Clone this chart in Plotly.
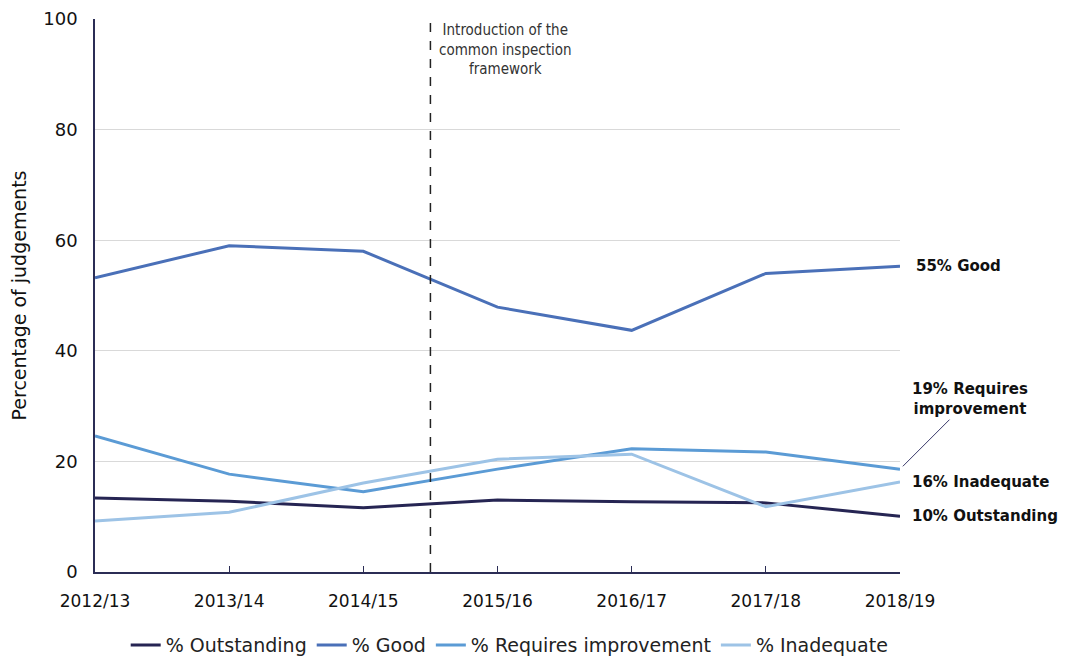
import plotly.graph_objects as go

years = ["2012/13", "2013/14", "2014/15", "2015/16", "2016/17", "2017/18", "2018/19"]
outstanding = [13.4, 12.8, 11.6, 13.0, 12.7, 12.5, 10.1]
good = [53.2, 59.0, 58.0, 47.9, 43.7, 54.0, 55.3]
requires_improvement = [24.6, 17.7, 14.5, 18.6, 22.3, 21.7, 18.6]
inadequate = [9.2, 10.8, 16.1, 20.4, 21.3, 11.8, 16.3]

series = [
    ("% Outstanding", outstanding, "#262553"),
    ("% Good", good, "#4a70b8"),
    ("% Requires improvement", requires_improvement, "#5b9bd5"),
    ("% Inadequate", inadequate, "#9dc3e6"),
]

fig = go.Figure()
for name, vals, col in series:
    fig.add_trace(go.Scatter(x=list(range(len(years))), y=vals, name=name, mode="lines",
                             line=dict(color=col, width=3)))

font = "DejaVu Sans, Verdana, sans-serif"

# Vertical dashed line between 2014/15 and 2015/16
fig.add_shape(type="line", x0=2.5, x1=2.5, y0=0, y1=101.5, xref="x", yref="y",
              line=dict(color="#222222", width=1.5, dash="dash"))
fig.add_annotation(x=2.55, y=100, xref="x", yref="y", xanchor="left", yanchor="top",
                   text="Introduction of the<br>common inspection<br>framework", showarrow=False,
                   align="center", font=dict(family="DejaVu Sans Condensed, " + font, size=15, color="#333333"))

# End labels
fig.add_annotation(x=6, y=good[-1], xref="x", yref="y", xanchor="left", xshift=14,
                   text="<b>55% Good</b>", showarrow=False, font=dict(family=font, size=15, color="#111111"))
fig.add_annotation(x=6, y=inadequate[-1], xref="x", yref="y", xanchor="left", xshift=10,
                   text="<b>16% Inadequate</b>", showarrow=False, font=dict(family=font, size=15, color="#111111"))
fig.add_annotation(x=6, y=outstanding[-1], xref="x", yref="y", xanchor="left", xshift=10,
                   text="<b>10% Outstanding</b>", showarrow=False, font=dict(family=font, size=15, color="#111111"))
fig.add_annotation(x=6, y=requires_improvement[-1], xref="x", yref="y", ax=70, ay=-70,
                   text="<b>19% Requires<br>improvement</b>", showarrow=True, arrowhead=0, arrowwidth=1,
                   arrowcolor="#3a3a6a", standoff=4,
                   font=dict(family=font, size=15, color="#111111"), align="center")

fig.update_layout(
    width=1072, height=661,
    margin=dict(l=87, r=180, t=11, b=97, autoexpand=False),
    paper_bgcolor="white", plot_bgcolor="white",
    font=dict(family=font, size=16, color="#111111"),
    showlegend=True,
    legend=dict(orientation="h", x=0.468, xanchor="center", y=0.036, yanchor="middle",
                yref="container", xref="container",
                font=dict(family=font, size=19, color="#222222"),
                tracegroupgap=0),
    xaxis=dict(tickmode="array", tickvals=list(range(len(years))), ticktext=years,
               range=[0, 6], showgrid=False, showline=True, linecolor="#2b2d55", linewidth=1.5,
               ticks="inside", ticklen=6, tickcolor="#2b2d55", tickfont=dict(size=17),
               zeroline=False, automargin=False, ticklabelstandoff=13),
    yaxis=dict(range=[0, 100], tickvals=[0, 20, 40, 60, 80, 100], showgrid=True,
               gridcolor="#d9d9d9", gridwidth=1, showline=True, linecolor="#2b2d55", linewidth=1.5,
               ticks="", tickfont=dict(size=18), zeroline=False, automargin=False,
               ticklabelstandoff=12,
               title=dict(text="Percentage of judgements", font=dict(size=19), standoff=18)),
)

fig.write_html("out.html")
